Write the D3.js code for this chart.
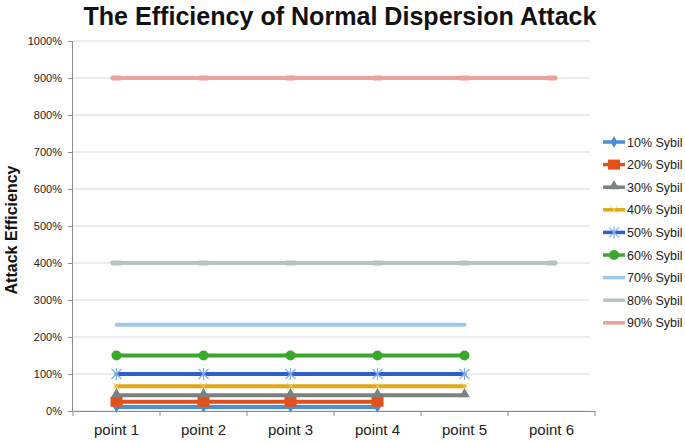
<!DOCTYPE html>
<html><head><meta charset="utf-8">
<script src="https://cdn.jsdelivr.net/npm/d3@7"></script>
<style>body{margin:0;background:#fff}svg{display:block}</style>
</head><body>
<svg id="c" width="685" height="444"></svg>
<script>
const categories = ["point 1","point 2","point 3","point 4","point 5","point 6"];
const seriesNames = ["10% Sybil","20% Sybil","30% Sybil","40% Sybil","50% Sybil","60% Sybil","70% Sybil","80% Sybil","90% Sybil"];
const s10 = [11.1, 11.1, 11.1, 11.1];
const s20 = [25, 25, 25, 25];
const s30 = [42.9, 42.9, 42.9, 42.9, 42.9];
const s40 = [66.7, 66.7, 66.7, 66.7, 66.7];
const s50 = [100, 100, 100, 100, 100];
const s60 = [150, 150, 150, 150, 150];
const s70 = [233.3, 233.3, 233.3, 233.3, 233.3];
const s80 = [400, 400, 400, 400, 400, 400];
const s90 = [900, 900, 900, 900, 900, 900];
const yTicks = [0,100,200,300,400,500,600,700,800,900,1000];
const seriesValues = [s10,s20,s30,s40,s50,s60,s70,s80,s90];
const colors = ["#4a8fd4","#e2501c","#7b8282","#e0a815","#2f5fcf","#3aa82a","#9ec8ea","#b6c3c0","#eaa39c"];
const markers = ["diamond","square","triangle","x","star","circle","none","dash","dash"];

const svg = d3.select("#c");
const m = {l:73, r:595, t:41, b:411};
const x = d3.scaleBand().domain(categories).range([m.l, m.r]);
const y = d3.scaleLinear().domain([0,1000]).range([m.b, m.t]);
const font = "'Liberation Sans', Arial, sans-serif";

// gridlines
svg.append("g").selectAll("line").data(yTicks).join("line")
  .attr("x1", m.l).attr("x2", m.r-5).attr("y1", d=>y(d)).attr("y2", d=>y(d))
  .attr("stroke", "#d9d9d9").attr("stroke-width", 1);

// y axis
const ya = svg.append("g").attr("transform", `translate(${m.l},0)`)
  .call(d3.axisLeft(y).tickValues(yTicks).tickFormat(d=>d+"%").tickSize(5).tickPadding(6));
ya.select(".domain").attr("stroke","#8c8c8c").attr("d", `M-0.5,${m.t}V${m.b}`);
ya.selectAll(".tick line").attr("stroke","#8c8c8c");
ya.selectAll("text").attr("font-family", font).attr("font-size", 11).attr("fill","#222");

// x axis
const xa = svg.append("g").attr("transform", `translate(0,${m.b})`)
  .call(d3.axisBottom(x).tickSize(0).tickPadding(13));
xa.select(".domain").attr("stroke","#8c8c8c");
xa.selectAll("text").attr("font-family", font).attr("font-size", 15).attr("fill","#222");
svg.append("g").selectAll("line").data(d3.range(categories.length+1)).join("line")
  .attr("x1", i=>m.l + i*x.step()).attr("x2", i=>m.l + i*x.step())
  .attr("y1", m.b).attr("y2", m.b+5).attr("stroke","#8c8c8c");

function drawMarker(g, type, cx, cy, color) {
  if (type === "diamond") {
    g.append("path").attr("d", d3.symbol(d3.symbolDiamond, 40)()).attr("transform",`translate(${cx},${cy})`).attr("fill", color);
  } else if (type === "square") {
    g.append("rect").attr("x", cx-6).attr("y", cy-5).attr("width", 12).attr("height", 10).attr("fill", color);
  } else if (type === "triangle") {
    g.append("path").attr("d", d3.symbol(d3.symbolTriangle, 50)()).attr("transform",`translate(${cx},${cy-1})`).attr("fill", color);
  } else if (type === "x") {
    g.append("path").attr("d", d3.symbol(d3.symbolX, 40)()).attr("transform",`translate(${cx},${cy})`).attr("stroke", "#f0d070").attr("stroke-width",1).attr("fill","none");
  } else if (type === "star") {
    g.append("path").attr("d", `M${cx-5},${cy-5}L${cx+5},${cy+5}M${cx-5},${cy+5}L${cx+5},${cy-5}M${cx},${cy-6}V${cy+6}`).attr("stroke", "#7fb0f0").attr("stroke-width",1.2).attr("fill","none");
  } else if (type === "circle") {
    g.append("circle").attr("cx", cx).attr("cy", cy).attr("r", 5).attr("fill", color);
  } else if (type === "dash") {
    g.append("rect").attr("x", cx-6).attr("y", cy-2.5).attr("width", 12).attr("height", 5).attr("rx",2).attr("fill", color);
  }
}

const line = d3.line().x((d,i)=>x(categories[i]) + x.bandwidth()/2).y(d=>y(d));
const plot = svg.append("g");
seriesValues.forEach((vals, k) => {
  plot.append("path").datum(vals).attr("d", line).attr("fill","none")
    .attr("stroke", colors[k]).attr("stroke-width", 4).attr("stroke-linecap","round");
});
seriesValues.forEach((vals, k) => {
  vals.forEach((v,i) => drawMarker(plot, markers[k], x(categories[i]) + x.bandwidth()/2, y(v), colors[k]));
});

// legend
const leg = svg.append("g");
seriesNames.forEach((n,k) => {
  const ly = 142 + k*22.6;
  leg.append("line").attr("x1", 603).attr("x2", 625).attr("y1", ly).attr("y2", ly)
    .attr("stroke", colors[k]).attr("stroke-width", 3.5);
  drawMarker(leg, markers[k] === "dash" ? "none" : markers[k], 614, ly, colors[k]);
  leg.append("text").attr("x", 627).attr("y", ly+4.5).text(n)
    .attr("font-family", font).attr("font-size", 12.5).attr("fill","#222");
});

// title
svg.append("text").attr("x", 340).attr("y", 25).attr("text-anchor","middle")
  .attr("font-family", font).attr("font-weight","bold").attr("font-size", 26).attr("fill","#111")
  .attr("textLength", 513).attr("lengthAdjust","spacingAndGlyphs")
  .text("The Efficiency of Normal Dispersion Attack");

// y label
svg.append("text").attr("transform","translate(17,230) rotate(-90)").attr("text-anchor","middle")
  .attr("font-family", font).attr("font-weight","bold").attr("font-size", 16).attr("fill","#111")
  .text("Attack Efficiency");
</script>
</body></html>
